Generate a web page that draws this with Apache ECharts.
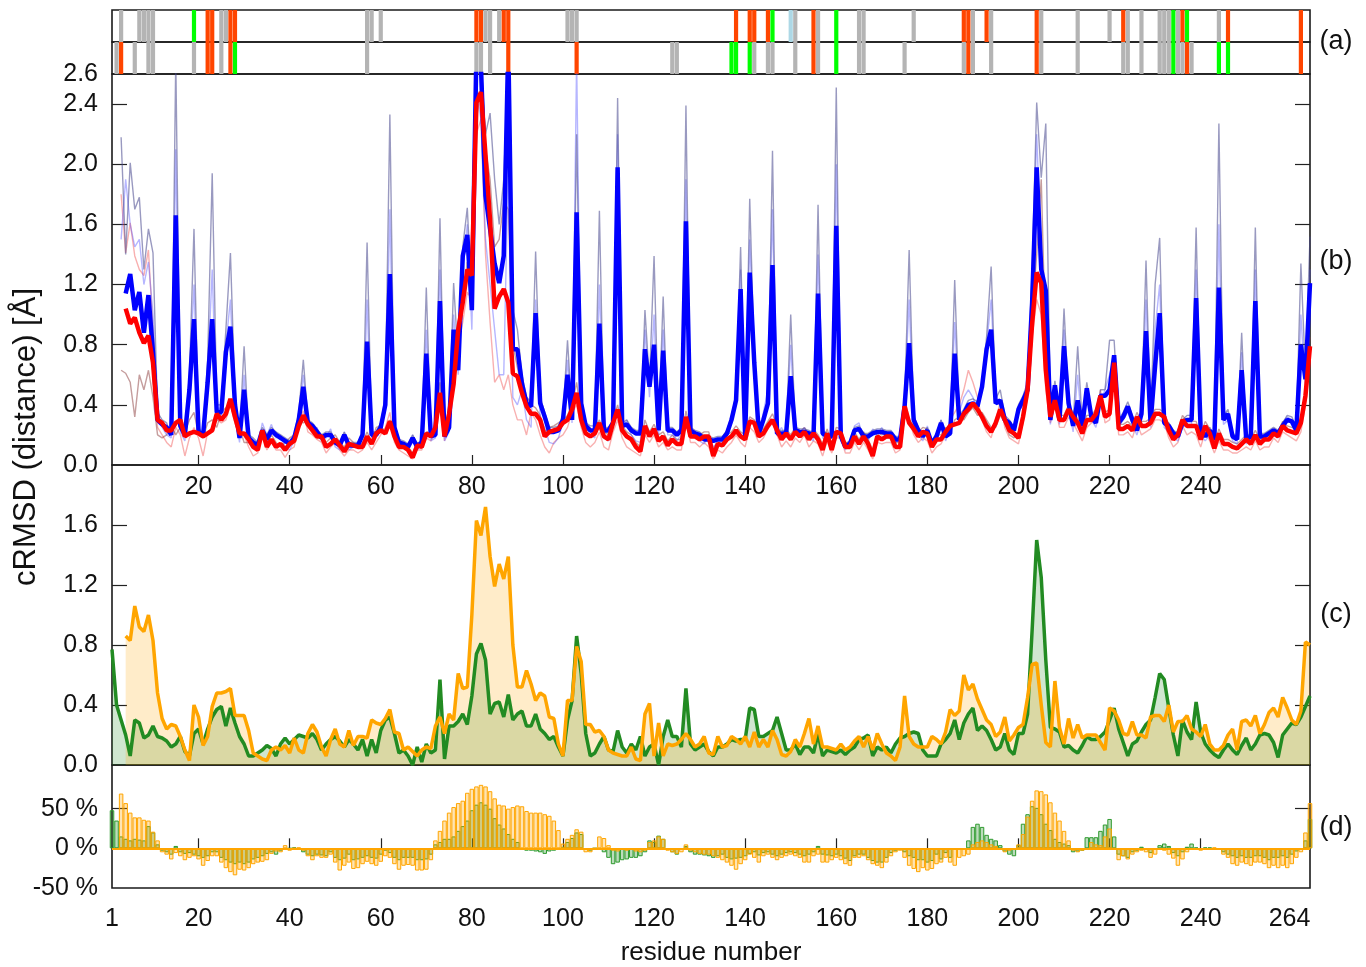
<!DOCTYPE html>
<html>
<head>
<meta charset="utf-8">
<title>cRMSD per residue</title>
<script src="https://cdn.jsdelivr.net/npm/echarts@6/dist/echarts.min.js"></script>
<style>
  html, body { margin: 0; padding: 0; background: #fff; }
  #chart { width: 1366px; height: 967px; }
</style>
</head>
<body>
<div id="chart"></div>
<script>
// ---- panel (a): residue markers, two rows ----
const row1Grey = [3, 7, 8, 9, 10, 25, 26, 57, 58, 60, 83, 84, 86, 101, 102, 103, 151, 156, 165, 166, 177, 190, 194, 205, 213, 220, 224, 227, 231, 232, 233, 235, 244];
const row1Red = [22, 23, 27, 28, 81, 82, 87, 88, 138, 141, 142, 145, 155, 188, 189, 193, 204, 223, 236, 246, 262];
const row1Green = [19, 146, 160, 234, 237];
const row1Blue = [150];
const row2Grey = [2, 6, 9, 10, 19, 25, 57, 81, 82, 84, 124, 125, 142, 145, 146, 151, 156, 165, 166, 175, 188, 190, 194, 205, 213, 223, 224, 227, 231, 232, 233, 235, 236, 238];
const row2Red = [3, 22, 23, 27, 88, 103, 155, 189, 204, 237, 262];
const row2Green = [28, 137, 138, 141, 160, 234, 244, 246];

// ---- panel (b): cRMSD, residue 1..264 ----
const blueMain = [
  null, null, null, 1.14, 1.27, 1.03, 1.15, 0.88, 1.13, 0.75,
  0.3, 0.27, 0.25, 0.2, 1.66, 0.26, 0.2, 0.5, 0.97, 0.22,
  0.2, 0.55, 0.97, 0.35, 0.35, 0.75, 0.92, 0.4, 0.18, 0.5,
  0.18, 0.15, 0.13, 0.23, 0.17, 0.23, 0.2, 0.18, 0.16, 0.14,
  0.18, 0.3, 0.52, 0.28, 0.26, 0.22, 0.18, 0.2, 0.2, 0.15,
  0.13, 0.2, 0.13, 0.13, 0.13, 0.2, 0.82, 0.2, 0.2, 0.25,
  0.4, 1.27, 0.25, 0.15, 0.14, 0.12, 0.18, 0.12, 0.15, 0.74,
  0.19, 0.2, 1.09, 0.19, 0.25, 0.9, 0.63, 1.39, 1.53, 1.03,
  2.75, 2.65, 1.79, 1.57, 1.34, 1.21, 1.39, 2.8, 0.77, 0.77,
  0.54, 0.41, 0.39, 1.01, 0.41, 0.32, 0.22, 0.22, 0.23, 0.3,
  0.6, 0.3, 1.68, 0.41, 0.26, 0.23, 0.23, 0.94, 0.23, 0.23,
  0.28, 1.98, 0.26, 0.27, 0.23, 0.21, 0.21, 0.77, 0.52, 0.8,
  0.23, 0.76, 0.23, 0.23, 0.2, 0.23, 1.62, 0.23, 0.21, 0.2,
  0.17, 0.17, 0.16, 0.17, 0.17, 0.21, 0.3, 0.43, 1.17, 0.19,
  1.28, 0.68, 0.21, 0.3, 0.41, 1.33, 0.21, 0.21, 0.21, 0.59,
  0.23, 0.22, 0.22, 0.21, 0.19, 1.14, 0.21, 0.19, 0.19, 1.59,
  0.19, 0.12, 0.14, 0.23, 0.24, 0.19, 0.19, 0.21, 0.22, 0.22,
  0.21, 0.21, 0.17, 0.17, 0.39, 0.81, 0.3, 0.23, 0.19, 0.23,
  0.14, 0.19, 0.28, 0.19, 0.21, 0.74, 0.3, 0.34, 0.4, 0.41,
  0.39, 0.52, 0.77, 0.9, 0.41, 0.43, 0.3, 0.28, 0.23, 0.37,
  0.43, 0.5, 1.08, 1.98, 1.3, 1.16, 0.3, 0.53, 0.3, 0.79,
  0.41, 0.26, 0.43, 0.26, 0.51, 0.32, 0.28, 0.46, 0.46, 0.5,
  0.73, 0.28, 0.32, 0.39, 0.3, 0.23, 0.34, 0.89, 0.28, 0.66,
  1.01, 0.28, 0.26, 0.21, 0.19, 0.28, 0.3, 0.3, 1.11, 0.23,
  0.19, 0.23, 0.17, 1.18, 0.3, 0.34, 0.19, 0.17, 0.63, 0.17,
  0.19, 1.09, 0.19, 0.19, 0.21, 0.23, 0.21, 0.26, 0.3, 0.29,
  0.23, 0.8, 0.57, 1.21
];
const redMain = [
  null, null, null, 1.04, 0.94, 0.98, 0.88, 0.81, 0.86, 0.68,
  0.3, 0.28, 0.23, 0.23, 0.28, 0.3, 0.19, 0.21, 0.22, 0.21,
  0.19, 0.21, 0.23, 0.34, 0.3, 0.34, 0.44, 0.32, 0.21, 0.21,
  0.17, 0.12, 0.1, 0.23, 0.12, 0.17, 0.12, 0.14, 0.1, 0.14,
  0.16, 0.26, 0.33, 0.27, 0.23, 0.19, 0.19, 0.12, 0.14, 0.17,
  0.13, 0.09, 0.14, 0.13, 0.12, 0.12, 0.19, 0.14, 0.21, 0.23,
  0.21, 0.29, 0.19, 0.12, 0.12, 0.1, 0.05, 0.13, 0.12, 0.21,
  0.19, 0.25, 0.48, 0.19, 0.34, 0.54, 0.9, 1.08, 1.3, 1.26,
  2.41, 2.48, 2.06, 1.63, 1.04, 1.12, 1.17, 1.08, 0.61, 0.59,
  0.48, 0.39, 0.34, 0.34, 0.3, 0.19, 0.22, 0.23, 0.24, 0.28,
  0.3, 0.37, 0.48, 0.3, 0.21, 0.19, 0.21, 0.28, 0.19, 0.17,
  0.28, 0.37, 0.23, 0.19, 0.17, 0.12, 0.09, 0.26, 0.19, 0.24,
  0.16, 0.19, 0.13, 0.17, 0.14, 0.14, 0.32, 0.19, 0.19, 0.17,
  0.19, 0.19, 0.06, 0.14, 0.13, 0.17, 0.19, 0.23, 0.19, 0.17,
  0.29, 0.28, 0.19, 0.21, 0.26, 0.3, 0.23, 0.17, 0.21, 0.17,
  0.22, 0.19, 0.22, 0.17, 0.21, 0.17, 0.1, 0.21, 0.1, 0.22,
  0.21, 0.12, 0.12, 0.19, 0.14, 0.19, 0.14, 0.06, 0.19, 0.17,
  0.19, 0.19, 0.12, 0.12, 0.39, 0.28, 0.24, 0.19, 0.22, 0.21,
  0.12, 0.17, 0.17, 0.22, 0.26, 0.27, 0.28, 0.34, 0.37, 0.41,
  0.37, 0.32, 0.26, 0.22, 0.28, 0.37, 0.3, 0.23, 0.21, 0.18,
  0.32, 0.5, 0.94, 1.28, 1.21, 0.63, 0.32, 0.43, 0.3, 0.3,
  0.37, 0.32, 0.28, 0.21, 0.3, 0.3, 0.34, 0.46, 0.32, 0.34,
  0.68, 0.24, 0.24, 0.26, 0.23, 0.32, 0.26, 0.26, 0.28, 0.34,
  0.34, 0.32, 0.23, 0.17, 0.2, 0.3, 0.26, 0.26, 0.26, 0.17,
  0.26, 0.21, 0.11, 0.21, 0.14, 0.14, 0.12, 0.11, 0.14, 0.17,
  0.14, 0.2, 0.14, 0.17, 0.17, 0.21, 0.19, 0.26, 0.23, 0.22,
  0.21, 0.28, 0.46, 0.79
];
// individual runs (thin lines)
const runSlate = [
  null, null, 2.18, 1.4, 2.01, 1.7, 1.78, 1.3, 1.57, 1.41,
  0.35, 0.3, 0.28, 0.2, 2.7, 0.28, 0.22, 0.6, 1.57, 0.25,
  0.2, 0.7, 1.94, 0.4, 0.4, 0.9, 1.41, 0.45, 0.2, 0.79,
  0.2, 0.18, 0.15, 0.25, 0.2, 0.25, 0.22, 0.2, 0.18, 0.16,
  0.2, 0.35, 0.7, 0.3, 0.28, 0.24, 0.2, 0.22, 0.22, 0.17,
  0.15, 0.22, 0.15, 0.15, 0.15, 0.22, 1.48, 0.22, 0.22, 0.28,
  0.45, 2.33, 0.28, 0.17, 0.16, 0.14, 0.2, 0.14, 0.17, 1.18,
  0.21, 0.22, 1.64, 0.21, 0.28, 1.21, 0.7, 1.45, 1.71, 1.1,
  2.7, 2.7, 2.2, 2.34, 1.9, 1.6, 1.9, 2.7, 1.03, 0.9,
  0.6, 0.45, 0.42, 1.42, 0.45, 0.35, 0.25, 0.25, 0.26, 0.33,
  0.83, 0.33, 2.2, 0.45, 0.28, 0.26, 0.26, 1.69, 0.25, 0.25,
  0.3, 2.44, 0.28, 0.3, 0.25, 0.23, 0.23, 1.03, 0.55, 1.39,
  0.25, 1.12, 0.25, 0.25, 0.22, 0.25, 2.39, 0.25, 0.23, 0.22,
  0.19, 0.19, 0.18, 0.19, 0.19, 0.23, 0.33, 0.46, 1.45, 0.21,
  1.77, 0.72, 0.23, 0.32, 0.44, 2.09, 0.23, 0.23, 0.23, 1.0,
  0.25, 0.24, 0.24, 0.23, 0.21, 1.73, 0.23, 0.21, 0.21, 2.51,
  0.21, 0.14, 0.16, 0.25, 0.26, 0.21, 0.21, 0.23, 0.24, 0.24,
  0.23, 0.23, 0.19, 0.19, 0.42, 1.43, 0.33, 0.25, 0.21, 0.25,
  0.16, 0.21, 0.3, 0.21, 0.23, 1.23, 0.33, 0.37, 0.43, 0.44,
  0.42, 0.55, 0.85, 1.32, 0.44, 0.5, 0.33, 0.3, 0.25, 0.4,
  0.46, 0.55, 1.3, 2.41, 1.91, 2.27, 0.33, 0.56, 0.33, 1.04,
  0.44, 0.28, 0.79, 0.28, 0.55, 0.35, 0.3, 0.5, 0.5, 0.83,
  0.83, 0.3, 0.35, 0.42, 0.33, 0.25, 0.37, 1.36, 0.3, 1.2,
  1.51, 0.3, 0.28, 0.23, 0.21, 0.3, 0.33, 0.33, 1.58, 0.25,
  0.21, 0.25, 0.19, 2.27, 0.33, 0.37, 0.21, 0.19, 0.88, 0.19,
  0.21, 1.58, 0.21, 0.21, 0.23, 0.25, 0.23, 0.28, 0.33, 0.32,
  0.25, 1.34, 0.6, 1.52
];
const runLightBlue = [
  null, null, 1.5, 1.9, 1.6, 1.45, 1.5, 1.2, 1.35, 1.0,
  0.35, 0.25, 0.2, 0.18, 2.1, 0.22, 0.16, 0.55, 1.2, 0.2,
  0.18, 0.6, 1.3, 0.3, 0.3, 0.8, 1.1, 0.35, 0.15, 0.6,
  0.15, 0.12, 0.12, 0.28, 0.2, 0.27, 0.18, 0.2, 0.12, 0.1,
  0.16, 0.3, 0.6, 0.3, 0.24, 0.25, 0.16, 0.18, 0.24, 0.12,
  0.1, 0.22, 0.1, 0.12, 0.14, 0.18, 1.1, 0.18, 0.22, 0.28,
  0.35, 1.7, 0.22, 0.12, 0.12, 0.1, 0.2, 0.1, 0.14, 0.9,
  0.16, 0.18, 1.3, 0.16, 0.22, 1.0, 0.6, 1.3, 1.6, 0.9,
  2.5, 2.3, 1.5, 1.2, 0.9, 0.6, 0.6, 2.0, 0.45, 0.4,
  0.5, 0.3, 0.25, 1.1, 0.3, 0.25, 0.15, 0.14, 0.18, 0.28,
  0.7, 0.28, 2.7, 0.35, 0.22, 0.2, 0.18, 1.2, 0.18, 0.16,
  0.25, 2.2, 0.22, 0.3, 0.2, 0.16, 0.15, 0.9, 0.45, 1.0,
  0.2, 0.9, 0.2, 0.2, 0.16, 0.2, 1.9, 0.2, 0.18, 0.16,
  0.14, 0.2, 0.12, 0.15, 0.15, 0.2, 0.28, 0.5, 1.3, 0.16,
  1.5, 0.7, 0.18, 0.35, 0.5, 1.7, 0.2, 0.25, 0.18, 0.8,
  0.2, 0.2, 0.25, 0.18, 0.16, 1.4, 0.18, 0.16, 0.22, 2.0,
  0.16, 0.1, 0.16, 0.26, 0.28, 0.16, 0.16, 0.24, 0.2, 0.25,
  0.18, 0.18, 0.14, 0.2, 0.45, 1.1, 0.28, 0.2, 0.16, 0.26,
  0.12, 0.16, 0.3, 0.16, 0.24, 0.95, 0.35, 0.45, 0.5, 0.45,
  0.36, 0.5, 0.8, 1.1, 0.45, 0.4, 0.27, 0.25, 0.2, 0.35,
  0.4, 0.48, 1.2, 2.2, 1.4, 1.0, 0.27, 0.5, 0.27, 0.9,
  0.38, 0.22, 0.6, 0.22, 0.45, 0.3, 0.25, 0.42, 0.5, 0.6,
  0.7, 0.25, 0.3, 0.35, 0.27, 0.2, 0.3, 1.1, 0.25, 0.9,
  1.2, 0.25, 0.22, 0.18, 0.16, 0.25, 0.27, 0.27, 1.3, 0.2,
  0.16, 0.2, 0.14, 1.6, 0.27, 0.3, 0.16, 0.14, 0.75, 0.14,
  0.16, 1.3, 0.16, 0.16, 0.18, 0.2, 0.18, 0.28, 0.32, 0.3,
  0.2, 1.0, 0.5, 1.3
];
const runPink = [
  null, null, 1.8, 1.41, 1.61, 1.39, 1.3, 1.26, 1.43, 0.9,
  0.25, 0.2, 0.15, 0.12, 0.25, 0.2, 0.06, 0.18, 0.25, 0.18,
  0.06, 0.22, 0.25, 0.3, 0.28, 0.3, 0.4, 0.28, 0.2, 0.2,
  0.12, 0.06, 0.08, 0.2, 0.1, 0.15, 0.1, 0.1, 0.05, 0.1,
  0.12, 0.28, 0.36, 0.22, 0.2, 0.17, 0.15, 0.08, 0.12, 0.15,
  0.1, 0.06, 0.1, 0.1, 0.08, 0.1, 0.15, 0.1, 0.15, 0.2,
  0.25, 0.35, 0.15, 0.1, 0.08, 0.06, 0.04, 0.1, 0.1, 0.18,
  0.16, 0.22, 0.42, 0.16, 0.3, 0.5, 0.8, 0.95, 1.15, 1.1,
  2.2, 2.3, 1.4, 0.95, 0.55, 0.6, 0.5, 0.6, 0.4, 0.3,
  0.3, 0.2, 0.35, 0.3, 0.2, 0.12, 0.08, 0.15, 0.18, 0.2,
  0.25, 0.35, 0.4, 0.25, 0.15, 0.12, 0.15, 0.22, 0.12, 0.1,
  0.22, 0.3, 0.18, 0.12, 0.1, 0.08, 0.06, 0.2, 0.15, 0.2,
  0.12, 0.15, 0.1, 0.12, 0.1, 0.1, 0.3, 0.15, 0.15, 0.12,
  0.15, 0.12, 0.04, 0.1, 0.08, 0.12, 0.15, 0.2, 0.15, 0.12,
  0.25, 0.22, 0.15, 0.18, 0.24, 0.28, 0.2, 0.12, 0.16, 0.12,
  0.18, 0.15, 0.2, 0.12, 0.16, 0.14, 0.06, 0.16, 0.08, 0.18,
  0.18, 0.08, 0.08, 0.15, 0.1, 0.15, 0.1, 0.04, 0.15, 0.14,
  0.15, 0.15, 0.08, 0.1, 0.45, 0.3, 0.2, 0.15, 0.18, 0.16,
  0.08, 0.12, 0.14, 0.2, 0.3, 0.35, 0.4, 0.5, 0.63, 0.55,
  0.45, 0.3, 0.22, 0.18, 0.3, 0.42, 0.25, 0.18, 0.16, 0.14,
  0.28, 0.45, 0.85, 1.1, 1.0, 0.5, 0.28, 0.4, 0.25, 0.25,
  0.32, 0.28, 0.22, 0.16, 0.25, 0.28, 0.3, 0.5, 0.28, 0.3,
  0.6, 0.2, 0.2, 0.22, 0.18, 0.28, 0.2, 0.22, 0.24, 0.3,
  0.3, 0.28, 0.18, 0.12, 0.15, 0.26, 0.2, 0.22, 0.2, 0.12,
  0.22, 0.16, 0.08, 0.16, 0.1, 0.1, 0.08, 0.08, 0.1, 0.12,
  0.1, 0.16, 0.1, 0.12, 0.12, 0.18, 0.15, 0.22, 0.2, 0.18,
  0.16, 0.22, 0.4, 0.7
];
const runBrown = [
  null, null, 0.63, 0.61, 0.55, 0.32, 0.6, 0.5, 0.63, 0.45,
  0.2, 0.18, 0.2, 0.26, 0.2, 0.25, 0.22, 0.3, 0.35, 0.2,
  0.18, 0.28, 0.3, 0.25, 0.35, 0.38, 0.4, 0.3, 0.25, 0.15,
  0.15, 0.15, 0.12, 0.2, 0.15, 0.2, 0.15, 0.12, 0.15, 0.18,
  0.2, 0.3, 0.28, 0.3, 0.25, 0.22, 0.2, 0.15, 0.18, 0.2,
  0.15, 0.12, 0.18, 0.15, 0.12, 0.15, 0.22, 0.15, 0.25, 0.26,
  0.22, 0.3, 0.22, 0.15, 0.15, 0.12, 0.08, 0.15, 0.14, 0.22,
  0.2, 0.28, 0.55, 0.22, 0.38, 0.55, 0.95, 1.1, 1.35, 1.3,
  2.3, 2.5, 2.1, 1.9, 1.45, 1.5, 1.75, 1.7, 0.8, 0.65,
  0.5, 0.45, 0.4, 0.38, 0.33, 0.22, 0.25, 0.26, 0.28, 0.3,
  0.33, 0.4, 0.55, 0.33, 0.24, 0.22, 0.24, 0.3, 0.22, 0.2,
  0.3, 0.4, 0.26, 0.22, 0.2, 0.15, 0.12, 0.3, 0.22, 0.27,
  0.2, 0.22, 0.16, 0.2, 0.17, 0.17, 0.36, 0.22, 0.22, 0.2,
  0.22, 0.22, 0.1, 0.17, 0.16, 0.2, 0.22, 0.26, 0.22, 0.2,
  0.32, 0.3, 0.22, 0.24, 0.29, 0.34, 0.26, 0.2, 0.24, 0.2,
  0.25, 0.22, 0.25, 0.2, 0.24, 0.2, 0.14, 0.24, 0.14, 0.25,
  0.24, 0.15, 0.15, 0.22, 0.17, 0.22, 0.17, 0.1, 0.22, 0.2,
  0.22, 0.22, 0.15, 0.15, 0.35, 0.3, 0.27, 0.22, 0.25, 0.24,
  0.15, 0.2, 0.2, 0.25, 0.22, 0.3, 0.32, 0.3, 0.35, 0.38,
  0.33, 0.35, 0.3, 0.25, 0.25, 0.33, 0.28, 0.2, 0.18, 0.22,
  0.35, 0.55, 1.0, 1.4, 1.9, 0.75, 0.35, 0.46, 0.33, 0.33,
  0.4, 0.35, 0.31, 0.24, 0.33, 0.33, 0.37, 0.45, 0.35, 0.37,
  0.72, 0.27, 0.27, 0.29, 0.26, 0.35, 0.29, 0.29, 0.31, 0.37,
  0.37, 0.35, 0.26, 0.2, 0.23, 0.33, 0.29, 0.29, 0.29, 0.2,
  0.29, 0.24, 0.14, 0.24, 0.17, 0.17, 0.15, 0.14, 0.17, 0.2,
  0.17, 0.23, 0.17, 0.2, 0.2, 0.24, 0.22, 0.29, 0.26, 0.25,
  0.24, 0.31, 0.5, 0.85
];

// ---- panel (c): green and orange cRMSD ----
const greenC = [
  0.77, 0.4, 0.3, 0.2, 0.06, 0.3, 0.28, 0.18, 0.2, 0.26,
  0.19, 0.18, 0.16, 0.12, 0.14, 0.19, 0.09, 0.06, 0.21, 0.24,
  0.14, 0.24, 0.32, 0.37, 0.39, 0.26, 0.38, 0.28, 0.19, 0.14,
  0.06, 0.06, 0.08, 0.1, 0.13, 0.11, 0.06, 0.14, 0.18, 0.14,
  0.17, 0.2, 0.19, 0.18, 0.21, 0.17, 0.1, 0.14, 0.17, 0.19,
  0.16, 0.12, 0.17, 0.14, 0.1, 0.17, 0.06, 0.17, 0.08, 0.23,
  0.3, 0.32, 0.21, 0.08, 0.1, 0.06, 0.0, 0.12, 0.02, 0.14,
  0.08, 0.1, 0.57, 0.04, 0.26, 0.26, 0.29, 0.34, 0.27, 0.46,
  0.74, 0.81, 0.7, 0.34, 0.41, 0.42, 0.32, 0.47, 0.3, 0.34,
  0.36, 0.26, 0.26, 0.34, 0.24, 0.21, 0.17, 0.19, 0.12, 0.06,
  0.3, 0.43, 0.86, 0.61, 0.21, 0.06, 0.08, 0.14, 0.19, 0.1,
  0.09, 0.23, 0.12, 0.08, 0.14, 0.1, 0.19, 0.06, 0.12, 0.14,
  0.0, 0.19, 0.3, 0.19, 0.19, 0.12, 0.51, 0.14, 0.1, 0.12,
  0.14, 0.09, 0.06, 0.12, 0.12, 0.14, 0.17, 0.16, 0.17, 0.17,
  0.38, 0.37, 0.19, 0.19, 0.21, 0.23, 0.32, 0.21, 0.1, 0.1,
  0.14, 0.07, 0.12, 0.12, 0.08, 0.21, 0.06, 0.1, 0.09, 0.08,
  0.1, 0.07, 0.1, 0.12, 0.17, 0.18, 0.2, 0.06, 0.12, 0.1,
  0.12, 0.08, 0.14, 0.18, 0.19, 0.21, 0.22, 0.21, 0.1, 0.06,
  0.06, 0.06, 0.14, 0.17, 0.21, 0.3, 0.17, 0.28, 0.34, 0.38,
  0.23, 0.26, 0.23, 0.17, 0.1, 0.12, 0.21, 0.1, 0.07, 0.21,
  0.21, 0.34, 0.9, 1.5, 1.25, 0.7, 0.25, 0.24, 0.22, 0.12,
  0.13, 0.1, 0.08, 0.13, 0.19, 0.17, 0.17, 0.19, 0.22, 0.3,
  0.38, 0.24, 0.15, 0.06, 0.14, 0.16, 0.22, 0.27, 0.3, 0.45,
  0.61, 0.57, 0.38, 0.2, 0.06, 0.3, 0.22, 0.17, 0.42, 0.22,
  0.14, 0.1, 0.07, 0.05, 0.1, 0.14, 0.1, 0.07, 0.13, 0.18,
  0.1, 0.14, 0.2, 0.21, 0.2, 0.15, 0.05, 0.2, 0.24, 0.28,
  0.27, 0.32, 0.39, 0.46
];
const orangeC = [
  null, null, null, 0.86, 0.83, 1.06, 0.92, 0.89, 1.0, 0.83,
  0.48, 0.31, 0.24, 0.27, 0.26, 0.19, 0.1, 0.03, 0.4, 0.32,
  0.13, 0.19, 0.39, 0.48, 0.48, 0.49, 0.51, 0.33, 0.33, 0.33,
  0.23, 0.08, 0.06, 0.04, 0.03, 0.1, 0.12, 0.1, 0.13, 0.08,
  0.18, 0.1, 0.08, 0.21, 0.27, 0.22, 0.12, 0.06, 0.17, 0.24,
  0.14, 0.12, 0.23, 0.13, 0.19, 0.19, 0.18, 0.3, 0.28, 0.27,
  0.31, 0.37, 0.22, 0.21, 0.1, 0.12, 0.09, 0.06, 0.1, 0.12,
  0.11, 0.26, 0.32, 0.21, 0.34, 0.3, 0.61, 0.51, 0.52, 1.0,
  1.63, 1.53, 1.72, 1.39, 1.19, 1.34, 1.24, 1.39, 0.8, 0.52,
  0.52, 0.63, 0.54, 0.43, 0.48, 0.46, 0.32, 0.31, 0.14, 0.06,
  0.43, 0.43, 0.79, 0.69, 0.27, 0.27, 0.22, 0.23, 0.19, 0.1,
  0.08, 0.07, 0.06, 0.06, 0.12, 0.04, 0.03, 0.34, 0.41, 0.06,
  0.28, 0.06, 0.14, 0.13, 0.14, 0.17, 0.21, 0.17, 0.12, 0.14,
  0.19, 0.08, 0.07, 0.19, 0.12, 0.13, 0.19, 0.17, 0.14, 0.19,
  0.12, 0.22, 0.12, 0.17, 0.12, 0.23, 0.17, 0.07, 0.06, 0.09,
  0.17, 0.12, 0.21, 0.31, 0.14, 0.26, 0.12, 0.12, 0.11, 0.1,
  0.14, 0.1, 0.12, 0.16, 0.19, 0.12, 0.19, 0.1, 0.21, 0.14,
  0.08, 0.06, 0.03, 0.12, 0.46, 0.19, 0.14, 0.12, 0.12, 0.12,
  0.19, 0.17, 0.14, 0.22, 0.37, 0.33, 0.36, 0.6, 0.5, 0.54,
  0.44, 0.37, 0.3, 0.27, 0.19, 0.22, 0.32, 0.16, 0.2, 0.25,
  0.27, 0.45, 0.67, 0.68, 0.4, 0.15, 0.12, 0.56, 0.25, 0.14,
  0.31, 0.18, 0.27, 0.18, 0.2, 0.2, 0.2, 0.15, 0.1, 0.38,
  0.36, 0.3, 0.21, 0.2, 0.29, 0.2, 0.2, 0.18, 0.32, 0.33,
  0.33, 0.29, 0.4, 0.22, 0.29, 0.29, 0.33, 0.24, 0.22, 0.19,
  0.27, 0.14, 0.1, 0.1, 0.13, 0.2, 0.24, 0.1, 0.29, 0.3,
  0.26, 0.33, 0.21, 0.27, 0.35, 0.38, 0.32, 0.45, 0.38, 0.3,
  0.27, 0.36, 0.82, 0.8
];

// ---- panel (d): relative change, percent ----
const greenD = [
  48, 35, 15, 12, 10, 12, 11, 10, 28, 20,
  5, -3, -5, -8, 3, -5, -7, -6, -8, -10,
  -12, -10, -5, -5, -12, -15, -18, -20, -18, -20,
  -18, -14, -12, -10, -7, -5, -8, -3, -2, 0,
  1, -1, -5, -8, -10, -8, -9, -10, -5, -12,
  -15, -13, -8, -15, -14, -12, -10, -12, -13, -8,
  -3, -6, -12, -15, -12, -12, -12, -15, -15, -14,
  -8, 5, 8, 12, 12, 15, 22, 28, 35, 48,
  55, 58, 55, 50, 38, 30, 25, 18, 12, 8,
  -2, -3, -3, -4, -5, -7, -4, -3, -1, 2,
  8, 13, 20, 18, -2, -3, 0, -2, -5, -12,
  -20, -18, -15, -14, -12, -12, -10, -5, 10, 8,
  16, 12, -2, -5, -8, -2, 3, -5, -8, -8,
  -9, -10, -12, -10, -8, -12, -14, -13, -12, -10,
  -7, -5, -9, -6, -5, -8, -10, -8, -6, -5,
  -6, -8, -10, -8, -5, 3, -8, -9, -10, -8,
  -10, -13, -16, -10, -8, -8, -12, -16, -18, -18,
  -12, -6, -3, -2, -5, -10, -12, -15, -15, -18,
  -16, -8, -14, -6, -12, -2, -2, -1, 10, 27,
  31, 27, 17, 12, 10, 4, -4, -8, -10, 4,
  31, 43, 53, 51, 43, 31, 23, 12, 8, 6,
  4, -5, -4, -3, 14, 14, 14, 22, 30, 37,
  15, -8, -10, -12, -5, -3, 2, -2, -6, -2,
  4, 6, 3, -6, -10, -5, 2, 6, 1, -2,
  1, 1, -1, -2, -5, -8, -10, -12, -10, -12,
  -12, -10, -10, -12, -15, -12, -12, -10, -12, -8,
  -4, -2, 10, 37
];
const orangeD = [
  null, null, 69, 57, 45, 39, 39, 36, 35, 21,
  10, -5, -8, -14, -6, -10, -15, -12, -10, -14,
  -22, -16, -10, -10, -18, -25, -30, -34, -27, -28,
  -25, -20, -18, -17, -15, -7, -4, -5, 4, -3,
  0, 1, -3, -10, -15, -10, -12, -12, -8, -18,
  -28, -22, -18, -26, -25, -20, -17, -20, -22, -17,
  -10, -12, -20, -27, -22, -21, -22, -28, -28, -27,
  -15, 10, 22, 35, 45, 52, 57, 60, 70, 75,
  78, 80, 78, 72, 63, 55, 54, 50, 52, 54,
  53, 47, 45, 45, 45, 43, 41, 35, 23, 6,
  12, 17, 24, 21, -5, -5, 0, 15, 13, 4,
  -3, -4, -2, -3, -2, -4, -5, -3, 8, 10,
  15, 12, -3, -5, -7, -5, 5, -3, -5, -7,
  -8, -8, -10, -12, -15, -18, -22, -27, -20, -15,
  -8, -12, -18, -10, -8, -12, -15, -12, -10, -8,
  -10, -12, -18, -18, -10, -8, -18, -18, -15, -12,
  -15, -20, -22, -12, -12, -10, -15, -20, -22, -25,
  -18, -10, -5, -3, -12, -22, -26, -30, -25, -28,
  -26, -20, -18, -12, -18, -22, -12, -10, -8, 5,
  8, 10, 8, 5, 3, -2, -5, -3, -2, 5,
  18, 40, 60, 73, 72, 68, 58, 45, 35, 22,
  10, -3, -5, -3, -2, 8, 5, 4, 15, 25,
  0, -15, -10, -14, -8, -5, -3, -5, -12, -8,
  -2, -3, -8, -13, -22, -14, -5, -2, -1, -3,
  -2, -1, 1, -2, -8, -12, -20, -22, -18, -20,
  -22, -18, -18, -20, -25, -22, -25, -22, -25, -20,
  -12, -5, 20, 57
];

// axis ticks and labels
const residueTicks = [20, 40, 60, 80, 100, 120, 140, 160, 180, 200, 220, 240];
const bottomLabels = [1, 20, 40, 60, 80, 100, 120, 140, 160, 180, 200, 220, 240, 259.5];
const bottomLabelText = { 259.5: '264' };
const rmsdTicksB = [0.4, 0.8, 1.2, 1.6, 2.0, 2.4];
const rmsdLabelsB = [0, 0.4, 0.8, 1.2, 1.6, 2.0, 2.4, 2.6];
const rmsdTicksC = [0.4, 0.8, 1.2, 1.6];
const rmsdLabelsC = [0, 0.4, 0.8, 1.2, 1.6];
const pctLabels = [-50, 0, 50];
const pctTicks = [0, 50];

function pts(arr) {
  const out = [];
  arr.forEach((v, i) => { if (v !== null) out.push([i + 1, v]); });
  return out;
}
function stripes(list, color) {
  return list.map(r => ({ value: [r, 1], itemStyle: { color: color } }));
}

const FONT = 'Liberation Sans';
const TXT = '#111';
const LEFT = 112, RIGHT = 56;

function xHidden(gi) {
  return { type: 'value', gridIndex: gi, min: 1, max: 264, show: false };
}
function yHidden(gi) {
  return { type: 'value', gridIndex: gi, min: 0, max: 1, show: false };
}
function yLeft(gi, min, max, labels, ticks, fmt) {
  return {
    type: 'value', gridIndex: gi, min: min, max: max, position: 'left',
    axisLine: { show: false },
    splitLine: { show: false },
    axisTick: { show: true, inside: true, length: 15, customValues: ticks, lineStyle: { color: '#222', width: 1.2 } },
    axisLabel: { show: true, customValues: labels, formatter: fmt, margin: 14, fontSize: 25, fontFamily: FONT, color: TXT }
  };
}
function yRight(gi, min, max, ticks) {
  return {
    type: 'value', gridIndex: gi, min: min, max: max, position: 'right',
    axisLine: { show: false },
    splitLine: { show: false },
    axisTick: { show: true, inside: true, length: 15, customValues: ticks, lineStyle: { color: '#222', width: 1.2 } },
    axisLabel: { show: false }
  };
}
function thin(data, color) {
  return {
    type: 'line', xAxisIndex: 2, yAxisIndex: 2, data: pts(data),
    showSymbol: false, symbol: 'none', lineStyle: { color: color, width: 1.4 }, z: 2
  };
}

const gridBox = { show: true, borderColor: '#1a1a1a', borderWidth: 1.6, left: LEFT, right: RIGHT };

const option = {
  animation: false,
  backgroundColor: '#fff',
  grid: [
    Object.assign({ top: 10, height: 32 }, gridBox),
    Object.assign({ top: 42, height: 32 }, gridBox),
    Object.assign({ top: 74, height: 391 }, gridBox),
    Object.assign({ top: 465, height: 300 }, gridBox),
    Object.assign({ top: 765, height: 130 }, gridBox)
  ],
  xAxis: [
    xHidden(0),
    xHidden(1),
    {
      type: 'value', gridIndex: 2, min: 1, max: 264, position: 'bottom',
      axisLine: { show: false }, splitLine: { show: false },
      axisTick: { show: true, inside: true, length: 10, customValues: residueTicks, lineStyle: { color: '#222', width: 1.2 } },
      axisLabel: { show: true, customValues: residueTicks, margin: 10, fontSize: 25, fontFamily: FONT, color: TXT }
    },
    xHidden(3),
    {
      type: 'value', gridIndex: 4, min: 1, max: 264, position: 'bottom',
      axisLine: { show: false }, splitLine: { show: false },
      axisTick: { show: true, inside: true, length: 10, customValues: residueTicks, lineStyle: { color: '#222', width: 1.2 } },
      axisLabel: {
        show: true, customValues: bottomLabels, margin: 19, fontSize: 25, fontFamily: FONT, color: TXT,
        formatter: v => bottomLabelText[v] || String(v)
      },
      name: 'residue number', nameLocation: 'middle', nameGap: 52,
      nameTextStyle: { fontSize: 26, fontFamily: FONT, color: TXT }
    }
  ],
  yAxis: [
    yHidden(0),
    yHidden(1),
    yLeft(2, 0, 2.6, rmsdLabelsB, rmsdTicksB, v => v.toFixed(1)),
    yRight(2, 0, 2.6, rmsdTicksB),
    yLeft(3, 0, 2.0, rmsdLabelsC, rmsdTicksC, v => v.toFixed(1)),
    yRight(3, 0, 2.0, rmsdTicksC),
    yLeft(4, -50, 105, pctLabels, pctTicks, v => v + ' %'),
    yRight(4, -50, 105, [50])
  ],
  series: [
    // (a) markers
    {
      type: 'bar', xAxisIndex: 0, yAxisIndex: 0, barWidth: 4.2,
      data: [].concat(stripes(row1Grey, '#b4b4b4'), stripes(row1Red, '#ff4500'),
                      stripes(row1Green, '#00ff00'), stripes(row1Blue, '#add8e6'))
    },
    {
      type: 'bar', xAxisIndex: 1, yAxisIndex: 1, barWidth: 4.2,
      data: [].concat(stripes(row2Grey, '#b4b4b4'), stripes(row2Red, '#ff4500'),
                      stripes(row2Green, '#00ff00'))
    },
    // (b) individual runs, then averages
    thin(runPink, 'rgba(240,80,80,0.45)'),
    thin(runBrown, 'rgba(140,60,60,0.5)'),
    thin(runLightBlue, 'rgba(80,80,255,0.42)'),
    thin(runSlate, 'rgba(70,70,140,0.55)'),
    {
      type: 'line', xAxisIndex: 2, yAxisIndex: 2, data: pts(blueMain),
      showSymbol: false, symbol: 'none', lineStyle: { color: '#0000ff', width: 4.5 }, z: 3
    },
    {
      type: 'line', xAxisIndex: 2, yAxisIndex: 2, data: pts(redMain),
      showSymbol: false, symbol: 'none', lineStyle: { color: '#ff0000', width: 4.5 }, z: 4
    },
    // (c)
    {
      type: 'line', xAxisIndex: 3, yAxisIndex: 4, data: pts(greenC),
      showSymbol: false, symbol: 'none',
      lineStyle: { color: '#228b22', width: 3.5 },
      areaStyle: { color: 'rgba(34,139,34,0.3)', origin: 'start' }
    },
    {
      type: 'line', xAxisIndex: 3, yAxisIndex: 4, data: pts(orangeC),
      showSymbol: false, symbol: 'none',
      lineStyle: { color: '#ffa500', width: 3.5 },
      areaStyle: { color: 'rgba(255,165,0,0.3)', origin: 'start' }
    },
    // (d)
    {
      type: 'bar', xAxisIndex: 4, yAxisIndex: 6, data: pts(greenD),
      barWidth: 4.5, barGap: '-100%',
      itemStyle: { color: 'rgba(34,139,34,0.3)', borderColor: '#2e9a2e', borderWidth: 1 }
    },
    {
      type: 'bar', xAxisIndex: 4, yAxisIndex: 6, data: pts(orangeD),
      barWidth: 4.5, barGap: '-100%',
      itemStyle: { color: 'rgba(255,165,0,0.3)', borderColor: '#ffa500', borderWidth: 1 },
      markLine: {
        silent: true, symbol: ['none', 'none'], label: { show: false },
        lineStyle: { color: '#ffa500', width: 2, type: 'solid' },
        data: [{ yAxis: 0 }]
      }
    }
  ],
  graphic: [
    {
      type: 'text', x: 26, y: 437, rotation: Math.PI / 2,
      style: { text: 'cRMSD (distance) [Å]', font: '31px "Liberation Sans"', fill: TXT, align: 'center', verticalAlign: 'middle' }
    },
    { type: 'text', x: 1336, y: 42, style: { text: '(a)', font: '27px "Liberation Sans"', fill: TXT, align: 'center', verticalAlign: 'middle' } },
    { type: 'text', x: 1336, y: 262, style: { text: '(b)', font: '27px "Liberation Sans"', fill: TXT, align: 'center', verticalAlign: 'middle' } },
    { type: 'text', x: 1336, y: 615, style: { text: '(c)', font: '27px "Liberation Sans"', fill: TXT, align: 'center', verticalAlign: 'middle' } },
    { type: 'text', x: 1336, y: 828, style: { text: '(d)', font: '27px "Liberation Sans"', fill: TXT, align: 'center', verticalAlign: 'middle' } }
  ]
};

const chart = echarts.init(document.getElementById('chart'), null, { renderer: 'canvas' });
chart.setOption(option);
</script>
</body>
</html>
